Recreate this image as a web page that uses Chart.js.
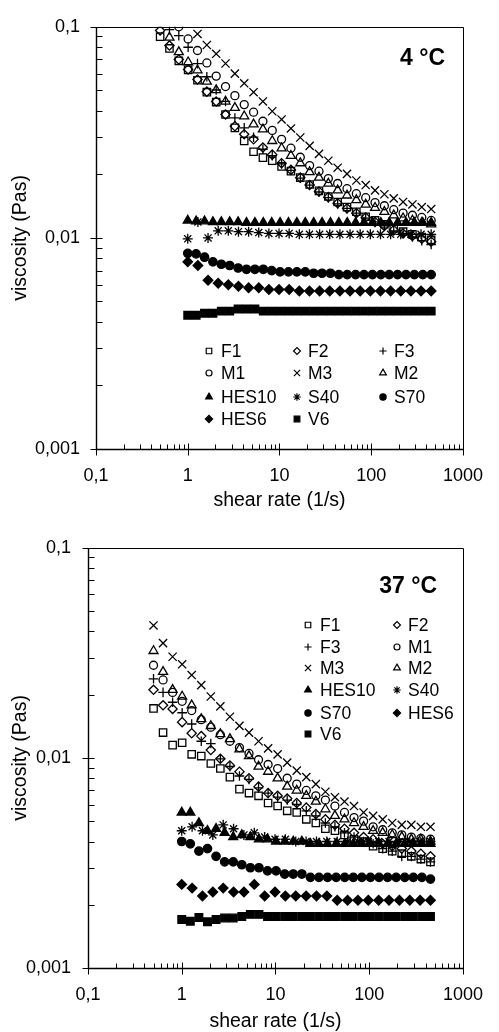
<!DOCTYPE html>
<html>
<head>
<meta charset="utf-8">
<script src="https://cdn.jsdelivr.net/npm/chart.js@4/dist/chart.umd.min.js"></script>
<style>
  html, body { margin: 0; padding: 0; background: #fff; overflow: hidden; }
  #chart4 { position: absolute; left: 0; top: 0; }
  #chart37 { position: absolute; left: 0; top: 520px; }
</style>
</head>
<body>
<canvas id="chart4" width="499" height="520"></canvas>
<canvas id="chart37" width="499" height="512"></canvas>
<script>
// shear rates (1/s)
const shearA = [0.5, 0.632, 0.799, 1.01, 1.277, 1.615, 2.042, 2.581, 3.264, 4.126, 5.217, 6.596, 8.339, 10.54, 13.33, 16.85, 21.31, 26.94, 34.06, 43.06, 54.44, 68.83, 87.02, 110, 139.1, 175.9, 222.4, 281.1, 355.4, 450];
const shearB = [1, 1.234, 1.524, 1.881, 2.323, 2.867, 3.54, 4.37, 5.395, 6.66, 8.222, 10.15, 12.53, 15.47, 19.1, 23.58, 29.11, 35.93, 44.36, 54.76, 67.6, 83.46, 103, 127.2, 157, 193.8, 239.3, 295.4, 364.7, 450];
const shearC = [1, 1.29, 1.664, 2.146, 2.768, 3.571, 4.606, 5.942, 7.664, 9.886, 12.75, 16.45, 21.22, 27.37, 35.3, 45.54, 58.74, 75.77, 97.73, 126.1, 162.6, 209.8, 270.6, 349, 450];

const seriesNames = ["F1", "F2", "F3", "M1", "M3", "M2", "HES10", "S40", "S70", "HES6", "V6"];

// axis ticks
const rateTicks = [0.1, 1, 10, 100, 1000];
const rateLabels = ["0,1", "1", "10", "100", "1000"];
const viscTicks = [0.001, 0.01, 0.1];
const viscLabels = ["0,001", "0,01", "0,1"];

// viscosity (Pas) at 4 °C
const t4_F1 = [0.0898, 0.079, 0.069, 0.0625, 0.0558, 0.049, 0.044, 0.0384, 0.0332, 0.0288, 0.0256, 0.024, 0.0232, 0.0218, 0.0207, 0.0193, 0.0179, 0.0167, 0.0157, 0.0148, 0.014, 0.0133, 0.0126, 0.0121, 0.0116, 0.0111, 0.0107, 0.0104, 0.0101, 0.0098];
const t4_F2 = [0.096, 0.0815, 0.07, 0.0628, 0.0563, 0.0493, 0.0443, 0.0384, 0.0338, 0.031, 0.0293, 0.0268, 0.0248, 0.0226, 0.021, 0.0193, 0.0178, 0.0166, 0.0156, 0.0146, 0.0138, 0.0131, 0.0125, 0.0119, 0.0114, 0.0109, 0.0105, 0.0102, 0.0099, 0.0096];
const t4_F3 = [null, 0.097, 0.0908, 0.08, 0.0669, 0.058, 0.0502, 0.0443, 0.037, 0.0332, 0.03, 0.0263, 0.0245, 0.0224, 0.0209, 0.0192, 0.0178, 0.0165, 0.0155, 0.0145, 0.0138, 0.0131, 0.0124, 0.0119, 0.0114, 0.0108, 0.0105, 0.0101, 0.0097, 0.0093];
const t4_M1 = [null, null, 0.1, 0.0876, 0.0772, 0.0674, 0.0584, 0.0521, 0.0472, 0.0428, 0.0394, 0.0357, 0.0323, 0.0293, 0.0266, 0.0241, 0.022, 0.0207, 0.0191, 0.0181, 0.0171, 0.0162, 0.0155, 0.0147, 0.0142, 0.0136, 0.0131, 0.0128, 0.0125, 0.0121];
const t4_M3 = [null, null, null, null, 0.0925, 0.082, 0.0745, 0.067, 0.06, 0.054, 0.049, 0.0443, 0.0398, 0.0364, 0.033, 0.0299, 0.0273, 0.025, 0.0232, 0.0215, 0.0201, 0.0187, 0.0178, 0.0168, 0.0161, 0.0154, 0.0148, 0.0144, 0.014, 0.0137];
const t4_M2 = [null, 0.089, 0.0759, 0.068, 0.0623, 0.055, 0.0502, 0.0443, 0.0413, 0.0377, 0.0345, 0.0327, 0.0288, 0.0266, 0.0245, 0.0226, 0.0205, 0.0193, 0.0181, 0.0168, 0.0159, 0.0151, 0.0144, 0.0139, 0.0133, 0.0128, 0.0124, 0.0121, 0.0118, 0.0116];
const t4_HES10 = [0.0121, 0.012, 0.012, 0.0119, 0.0119, 0.0119, 0.0119, 0.0118, 0.0118, 0.0118, 0.0118, 0.0118, 0.0118, 0.0118, 0.0118, 0.0118, 0.0118, 0.0118, 0.0118, 0.0118, 0.0118, 0.0118, 0.0118, 0.0118, 0.0118, 0.0118, 0.0118, 0.0118, 0.0118, 0.0118];
const t4_S40 = [0.0099, 0.0119, 0.01, 0.0108, 0.0108, 0.0107, 0.0107, 0.0106, 0.0105, 0.0105, 0.0105, 0.0104, 0.0104, 0.0104, 0.0104, 0.0104, 0.0104, 0.0104, 0.0104, 0.0104, 0.0104, 0.0104, 0.0104, 0.0104, 0.0104];
const t4_S70 = [0.00845, 0.0084, 0.0081, 0.0077, 0.0075, 0.0074, 0.0072, 0.0071, 0.0071, 0.0071, 0.007, 0.0069, 0.0069, 0.0069, 0.0069, 0.0068, 0.0068, 0.0068, 0.0067, 0.0067, 0.0067, 0.0067, 0.0067, 0.0067, 0.0067, 0.0067, 0.0067, 0.0067, 0.0067, 0.0067];
const t4_HES6 = [0.0077, 0.0074, 0.0063, 0.0061, 0.006, 0.0059, 0.0058, 0.0058, 0.0057, 0.0057, 0.0057, 0.0056, 0.0056, 0.0056, 0.0056, 0.0056, 0.0056, 0.0056, 0.0056, 0.0056, 0.0056, 0.0056, 0.0056, 0.0056, 0.0056];
const t4_V6 = [0.0043, 0.0043, 0.0044, 0.0044, 0.0045, 0.0045, 0.0046, 0.0046, 0.0046, 0.0045, 0.0045, 0.0045, 0.0045, 0.0045, 0.0045, 0.0045, 0.0045, 0.0045, 0.0045, 0.0045, 0.0045, 0.0045, 0.0045, 0.0045, 0.0045, 0.0045, 0.0045, 0.0045, 0.0045, 0.0045];

// viscosity (Pas) at 37 °C
const t37_F1 = [0.0172, 0.0132, 0.0115, 0.0118, 0.0104, 0.0102, 0.0094, 0.0089, 0.0081, 0.0071, 0.0068, 0.0066, 0.0061, 0.0059, 0.0056, 0.0055, 0.0051, 0.0049, 0.0046, 0.0045, 0.0043, 0.0041, 0.004, 0.0038, 0.0037, 0.0036, 0.0035, 0.0034, 0.0033, 0.0032];
const t37_F2 = [0.0211, 0.0178, 0.0171, 0.0148, 0.0131, 0.0127, 0.0109, 0.0099, 0.0092, 0.0086, 0.008, 0.0073, 0.0068, 0.0066, 0.0064, 0.0061, 0.0058, 0.0054, 0.0051, 0.0048, 0.0046, 0.0044, 0.0042, 0.0041, 0.0039, 0.0038, 0.0037, 0.0036, 0.0035, 0.0034];
const t37_F3 = [0.0238, 0.0205, 0.0184, 0.0164, 0.0145, 0.012, 0.0117, 0.0099, 0.0091, 0.0082, 0.0079, 0.0072, 0.0068, 0.0065, 0.0063, 0.006, 0.0056, 0.0053, 0.0049, 0.0047, 0.0044, 0.0042, 0.004, 0.0039, 0.0037, 0.0036, 0.0034, 0.0034, 0.0033, 0.0032];
const t37_M1 = [0.0276, 0.0235, 0.0205, 0.0186, 0.0168, 0.0152, 0.014, 0.0129, 0.012, 0.0112, 0.0105, 0.0098, 0.0093, 0.0089, 0.008, 0.0075, 0.007, 0.0066, 0.0063, 0.0059, 0.0055, 0.0052, 0.005, 0.0047, 0.00455, 0.0044, 0.0043, 0.0042, 0.00414, 0.0041];
const t37_M3 = [0.0427, 0.0352, 0.0303, 0.0279, 0.0248, 0.0222, 0.0196, 0.0176, 0.0157, 0.0142, 0.0132, 0.012, 0.0111, 0.0104, 0.0095, 0.0087, 0.0081, 0.0075, 0.0069, 0.0065, 0.0062, 0.0059, 0.0055, 0.0053, 0.0051, 0.0049, 0.0048, 0.0048, 0.0047, 0.0047];
const t37_M2 = [0.0323, 0.0257, 0.0211, 0.0196, 0.0178, 0.0153, 0.0142, 0.013, 0.0123, 0.011, 0.0102, 0.0091, 0.0086, 0.008, 0.0073, 0.007, 0.0066, 0.0062, 0.0057, 0.0053, 0.0051, 0.0049, 0.0047, 0.0045, 0.0044, 0.0043, 0.0042, 0.0041, 0.0041, 0.004];
const t37_HES10 = [0.0055, 0.0055, 0.0049, 0.0045, 0.0046, 0.0044, 0.0042, 0.0043, 0.0042, 0.0041, 0.0041, 0.004, 0.004, 0.004, 0.004, 0.0039, 0.0039, 0.0039, 0.0039, 0.0039, 0.0039, 0.0039, 0.0039, 0.0039, 0.0039, 0.0039, 0.0039, 0.0039, 0.0039, 0.0039];
const t37_S40 = [0.0045, 0.0047, 0.0045, 0.0043, 0.0048, 0.0046, 0.0043, 0.0044, 0.0042, 0.0041, 0.0041, 0.004, 0.004, 0.004, 0.004, 0.004, 0.004, 0.004, 0.004, 0.004, 0.004, 0.004, 0.004, 0.004, 0.004];
const t37_S70 = [0.004, 0.0039, 0.0036, 0.0037, 0.0034, 0.0032, 0.0032, 0.0031, 0.003, 0.003, 0.0029, 0.0029, 0.0028, 0.0028, 0.0028, 0.0027, 0.0027, 0.0027, 0.0027, 0.0027, 0.0027, 0.0027, 0.0027, 0.0027, 0.0027, 0.0027, 0.0027, 0.0027, 0.0027, 0.00265];
const t37_HES6 = [0.0025, 0.0024, 0.0022, 0.0023, 0.0024, 0.0023, 0.0023, 0.0025, 0.0022, 0.0023, 0.0022, 0.0022, 0.0022, 0.0022, 0.0022, 0.0021, 0.0021, 0.0021, 0.0021, 0.0021, 0.0021, 0.0021, 0.0021, 0.0021, 0.0021];
const t37_V6 = [0.0017, 0.00167, 0.00174, 0.00166, 0.0017, 0.00173, 0.00173, 0.00176, 0.0018, 0.0018, 0.00176, 0.00176, 0.00176, 0.00176, 0.00176, 0.00176, 0.00176, 0.00176, 0.00176, 0.00176, 0.00176, 0.00176, 0.00176, 0.00176, 0.00176, 0.00176, 0.00176, 0.00176, 0.00176, 0.00176];

const FONT = '"Liberation Sans", Arial, Helvetica, sans-serif';
Chart.defaults.font.family = FONT;
Chart.defaults.color = "#000";

const shearFor = { F1: shearA, F2: shearA, F3: shearA, M1: shearA, M3: shearA, M2: shearA, HES10: shearB, S40: shearC, S70: shearB, HES6: shearC, V6: shearB };

const markerStyle = {
    F1:    { pointStyle: "rect",     radius: 5.2, fill: false },
    F2:    { pointStyle: "rectRot",  radius: 4.6, fill: false },
    F3:    { pointStyle: "cross",    radius: 4.8, fill: false },
    M1:    { pointStyle: "circle",   radius: 4,   fill: false },
    M3:    { pointStyle: "crossRot", radius: 5.8, fill: false },
    M2:    { pointStyle: "triangle", radius: 5.2, fill: false },
    HES10: { pointStyle: "triangle", radius: 5.2, fill: true },
    S40:   { pointStyle: "star",     radius: 5,   fill: false },
    S70:   { pointStyle: "circle",   radius: 4.2, fill: true },
    HES6:  { pointStyle: "rectRot",  radius: 4.8, fill: true },
    V6:    { pointStyle: "rect",     radius: 5.4, fill: true }
};

function makeDatasets(values) {
    return seriesNames.map(name => {
        const st = markerStyle[name];
        return {
            label: name,
            data: shearFor[name].map((x, i) => ({ x: x, y: values[name][i] })),
            showLine: false,
            pointStyle: st.pointStyle,
            pointRadius: st.radius,
            pointBorderWidth: 1.3,
            pointBorderColor: "#000",
            pointBackgroundColor: st.fill ? "#000" : "rgba(0,0,0,0)"
        };
    });
}

// box, crossing major ticks and inner minor ticks
const framePlugin = {
    id: "frame",
    beforeDatasetsDraw(chart) {
        const { ctx, chartArea: a, scales: { x, y } } = chart;
        const L = Math.round(a.left) + 0.5, R = Math.round(a.right) + 0.5;
        const T = Math.round(a.top) + 0.5, B = Math.round(a.bottom) + 0.5;
        ctx.save();
        ctx.strokeStyle = "#000";
        ctx.lineWidth = 1;
        ctx.beginPath();
        ctx.moveTo(L, T); ctx.lineTo(R, T); ctx.lineTo(R, B);
        ctx.stroke();
        ctx.lineWidth = 1.4;
        ctx.beginPath();
        ctx.moveTo(L, T); ctx.lineTo(L, B); ctx.lineTo(R, B);
        ctx.stroke();
        ctx.lineWidth = 1;
        ctx.beginPath();
        rateTicks.forEach((v, i) => {
            const px = Math.round(x.getPixelForValue(v)) + 0.5;
            ctx.moveTo(px, B - 6); ctx.lineTo(px, B + 6);
            if (i < rateTicks.length - 1) {
                for (let m = 2; m <= 9; m++) {
                    const mx = Math.round(x.getPixelForValue(v * m)) + 0.5;
                    ctx.moveTo(mx, B); ctx.lineTo(mx, B - 5);
                }
            }
        });
        viscTicks.forEach((v, i) => {
            const py = Math.round(y.getPixelForValue(v)) + 0.5;
            ctx.moveTo(L - 6, py); ctx.lineTo(L + 6, py);
            if (i < viscTicks.length - 1) {
                for (let m = 2; m <= 9; m++) {
                    const my = Math.round(y.getPixelForValue(v * m)) + 0.5;
                    ctx.moveTo(L, my); ctx.lineTo(L + 6, my);
                }
            }
        });
        ctx.stroke();
        ctx.restore();
    }
};

// marker key and temperature label
const keyPlugin = {
    id: "markerKey",
    afterDraw(chart, args, opts) {
        const ctx = chart.ctx;
        ctx.save();
        ctx.font = "17.5px " + FONT;
        ctx.textBaseline = "middle";
        ctx.textAlign = "left";
        opts.items.forEach(([name, col, row]) => {
            const st = markerStyle[name];
            const my = opts.rowY[row];
            ctx.strokeStyle = "#000";
            ctx.lineWidth = 1.2;
            ctx.fillStyle = st.fill ? "#000" : "rgba(0,0,0,0)";
            Chart.helpers.drawPoint(ctx, { pointStyle: st.pointStyle, radius: st.radius * 0.75, borderWidth: 1.2, rotation: 0 }, opts.markX[col], my);
            ctx.fillStyle = "#000";
            ctx.fillText(name, opts.textX[col], my + 1);
        });
        ctx.font = "bold 23px " + FONT;
        ctx.textAlign = "right";
        ctx.textBaseline = "alphabetic";
        ctx.fillText(opts.temp, opts.tempX, opts.tempY);
        ctx.restore();
    }
};

function makeChart(id, values, cfg) {
    return new Chart(document.getElementById(id), {
        type: "scatter",
        data: { datasets: makeDatasets(values) },
        options: {
            responsive: false,
            animation: false,
            devicePixelRatio: 1,
            layout: { padding: { top: cfg.padTop, right: cfg.padRight, left: 0, bottom: 0 } },
            plugins: {
                legend: { display: false },
                tooltip: { enabled: false },
                markerKey: cfg.key
            },
            scales: {
                x: {
                    type: "logarithmic",
                    min: 0.1,
                    max: 1000,
                    afterBuildTicks: s => { s.ticks = rateTicks.map(v => ({ value: v })); },
                    afterFit: s => { s.height = cfg.xHeight; },
                    grid: { display: false, drawTicks: false },
                    border: { display: false },
                    ticks: {
                        padding: 16, color: "#000", font: { size: 18 }, maxRotation: 0, autoSkip: false,
                        callback: v => rateLabels[rateTicks.indexOf(v)]
                    },
                    title: {
                        display: true, text: "shear rate (1/s)", color: "#000",
                        font: { size: 19.5, lineHeight: 1.1 }, padding: { top: 0, bottom: cfg.xTitlePad }
                    }
                },
                y: {
                    type: "logarithmic",
                    min: 0.001,
                    max: 0.1,
                    afterBuildTicks: s => { s.ticks = viscTicks.map(v => ({ value: v })); },
                    afterFit: s => { s.width = cfg.yWidth; },
                    grid: { display: false, drawTicks: false },
                    border: { display: false },
                    ticks: {
                        padding: cfg.yTickPad, color: "#000", font: { size: 18 }, autoSkip: false,
                        callback: v => viscLabels[viscTicks.indexOf(v)]
                    },
                    title: {
                        display: true, text: "viscosity (Pas)", color: "#000",
                        font: { size: 19.5, lineHeight: 1.1 }, padding: { top: 10, bottom: 0 }
                    }
                }
            }
        },
        plugins: [framePlugin, keyPlugin]
    });
}

makeChart("chart4", {
    F1: t4_F1, F2: t4_F2, F3: t4_F3, M1: t4_M1, M3: t4_M3, M2: t4_M2,
    HES10: t4_HES10, S40: t4_S40, S70: t4_S70, HES6: t4_HES6, V6: t4_V6
}, {
    padTop: 21, padRight: 23, yWidth: 96, xHeight: 71, xTitlePad: 9, yTickPad: 16,
    key: {
        items: [["F1", 0, 0], ["F2", 1, 0], ["F3", 2, 0], ["M1", 0, 1], ["M3", 1, 1], ["M2", 2, 1],
                ["HES10", 0, 2], ["S40", 1, 2], ["S70", 2, 2], ["HES6", 0, 3], ["V6", 1, 3]],
        markX: [209, 297, 383], textX: [221, 308, 394], rowY: [351, 373, 397, 419],
        temp: "4 °C", tempX: 445, tempY: 65
    }
});

makeChart("chart37", {
    F1: t37_F1, F2: t37_F2, F3: t37_F3, M1: t37_M1, M3: t37_M3, M2: t37_M2,
    HES10: t37_HES10, S40: t37_S40, S70: t37_S70, HES6: t37_HES6, V6: t37_V6
}, {
    padTop: 23, padRight: 25, yWidth: 88, xHeight: 64, xTitlePad: 0, yTickPad: 17,
    key: {
        items: [["F1", 0, 0], ["F2", 1, 0], ["F3", 0, 1], ["M1", 1, 1], ["M3", 0, 2], ["M2", 1, 2],
                ["HES10", 0, 3], ["S40", 1, 3], ["S70", 0, 4], ["HES6", 1, 4], ["V6", 0, 5]],
        markX: [308, 397], textX: [320, 408], rowY: [105, 127, 148, 170, 193, 214],
        temp: "37 °C", tempX: 437, tempY: 73
    }
});
</script>
</body>
</html>
